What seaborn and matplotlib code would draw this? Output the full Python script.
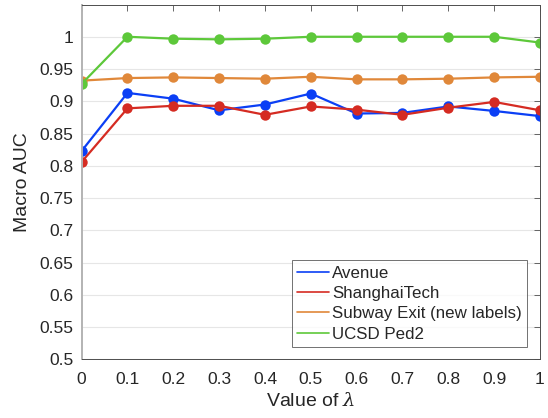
import numpy as np
import pandas as pd
import seaborn as sns
import matplotlib
matplotlib.use("Agg")
import matplotlib.pyplot as plt
from matplotlib.ticker import FuncFormatter

# Sensitivity of macro AUC to the weighting parameter lambda
lambdas = [0.0, 0.1, 0.2, 0.3, 0.4, 0.5, 0.6, 0.7, 0.8, 0.9, 1.0]
avenue = [0.823, 0.913, 0.904, 0.886, 0.895, 0.912, 0.881, 0.882, 0.892, 0.885, 0.877]
shanghaitech = [0.806, 0.889, 0.893, 0.893, 0.879, 0.892, 0.887, 0.879, 0.890, 0.899, 0.886]
subway_exit = [0.932, 0.936, 0.937, 0.936, 0.935, 0.938, 0.934, 0.934, 0.935, 0.937, 0.938]
ucsd_ped2 = [0.927, 1.000, 0.997, 0.996, 0.997, 1.000, 1.000, 1.000, 1.000, 1.000, 0.991]

series_names = ["Avenue", "ShanghaiTech", "Subway Exit (new labels)", "UCSD Ped2"]
series_values = [avenue, shanghaitech, subway_exit, ucsd_ped2]
palette = ["#0B3FF5", "#D52B22", "#E0883A", "#5DC83A"]

df = pd.concat(
    [pd.DataFrame({"lambda": lambdas, "auc": v, "dataset": n})
     for n, v in zip(series_names, series_values)],
    ignore_index=True,
)

sns.set_style("white")
plt.rcParams["font.family"] = ["Liberation Sans", "DejaVu Sans"]
plt.rcParams["mathtext.fontset"] = "dejavuserif"

fig = plt.figure(figsize=(5.48, 4.18), dpi=100)
ax = fig.add_axes([0.149, 0.1404, 0.8364, 0.8488])

sns.lineplot(
    data=df, x="lambda", y="auc", hue="dataset", hue_order=series_names,
    palette=palette, marker="o", markersize=7.5, markeredgewidth=0,
    linewidth=1.6, ax=ax, legend=True,
)

ax.set_xlim(0, 1)
ax.set_ylim(0.5, 1.05)
ax.set_xticks(lambdas)
ax.set_yticks(np.arange(0.5, 1.0001, 0.05))
fmt = FuncFormatter(lambda v, _: f"{v:.2f}".rstrip("0").rstrip(".") if v != 0 else "0")
ax.xaxis.set_major_formatter(fmt)
ax.yaxis.set_major_formatter(fmt)

ax.grid(axis="y", color="#e6e6e6", linewidth=0.8)
ax.set_axisbelow(True)

for side in ["top", "right", "bottom"]:
    ax.spines[side].set_color("#4d4d4d")
    ax.spines[side].set_linewidth(0.7)
    ax.spines[side].set_visible(True)
ax.spines["left"].set_color("#b3b3b3")
ax.spines["left"].set_linewidth(1.4)

ax.tick_params(axis="both", which="both", direction="in", length=4,
               width=0.6, colors="#4d4d4d", labelcolor="#262626",
               labelsize=12.5, top=True, right=True)
ax.tick_params(axis="x", pad=9)
ax.tick_params(axis="y", left=False, pad=6)

ax.set_xlabel(r"Value of $\lambda$", fontsize=14, color="#262626", labelpad=4)
ax.set_ylabel("Macro AUC", fontsize=14, color="#262626", labelpad=6)

handles, labels = ax.get_legend_handles_labels()
for h in handles:
    h.set_marker("")
    h.set_linewidth(1.2)
leg = ax.legend(
    handles, labels, loc="lower right", bbox_to_anchor=(0.971, 0.035),
    fontsize=12.2, frameon=True, fancybox=False, handlelength=1.9,
    handletextpad=0.15, borderpad=0.3, labelspacing=0.32, borderaxespad=0,
)
leg.get_frame().set_edgecolor("#4d4d4d")
leg.get_frame().set_linewidth(0.7)

fig.savefig("out.png", dpi=100)
